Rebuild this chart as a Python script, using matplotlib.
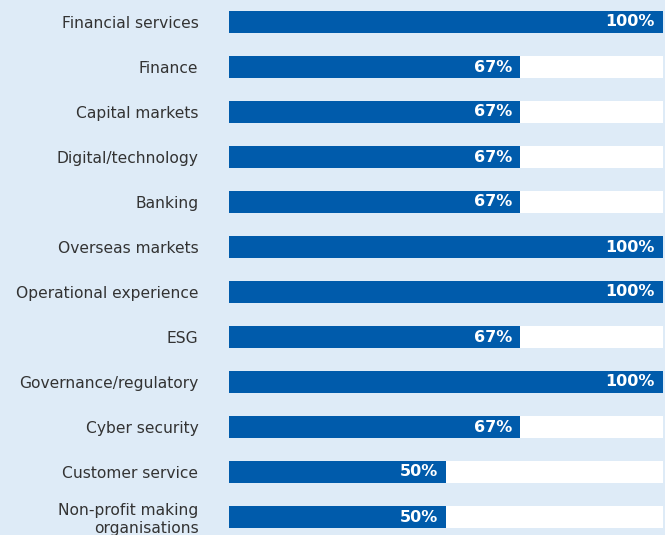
import numpy as np
import matplotlib
matplotlib.use('Agg')
import matplotlib.pyplot as plt

# Share of boards with each skill
skills = ['Financial services', 'Finance', 'Capital markets', 'Digital/technology',
          'Banking', 'Overseas markets', 'Operational experience', 'ESG',
          'Governance/regulatory', 'Cyber security', 'Customer service',
          'Non-profit making\norganisations']
values = [100, 67, 67, 67, 67, 100, 100, 67, 100, 67, 50, 50]

bg_color = '#deebf7'
bar_color = '#005bab'
text_color = '#333333'

plt.rcParams['font.family'] = 'DejaVu Sans'

fig = plt.figure(figsize=(6.65, 5.35), dpi=100, facecolor=bg_color)
# axes spans the bar track, full figure height
ax = fig.add_axes([229 / 665, 0, 434 / 665, 1])
ax.set_facecolor('none')

y = np.arange(len(skills))
ax.barh(y, [100] * len(skills), height=0.51, color='white')
ax.barh(y, values, height=0.51, color=bar_color)

for yi, v in zip(y, values):
    ax.annotate(f'{v}%', xy=(v, yi), xytext=(-8, 0), textcoords='offset pixels',
                ha='right', va='center', color='white', fontsize=11.5,
                fontweight='bold')

ax.set_xlim(0, 100)
ax.set_ylim((535 - 22) / 45, -22 / 45)
ax.set_yticks(y)
ax.set_yticklabels(skills, fontsize=11.2, color=text_color, linespacing=1.2)
ax.tick_params(axis='y', length=0, pad=22)
ax.set_xticks([])
for s in ax.spines.values():
    s.set_visible(False)

fig.savefig('out.png', dpi=100, facecolor=bg_color)
